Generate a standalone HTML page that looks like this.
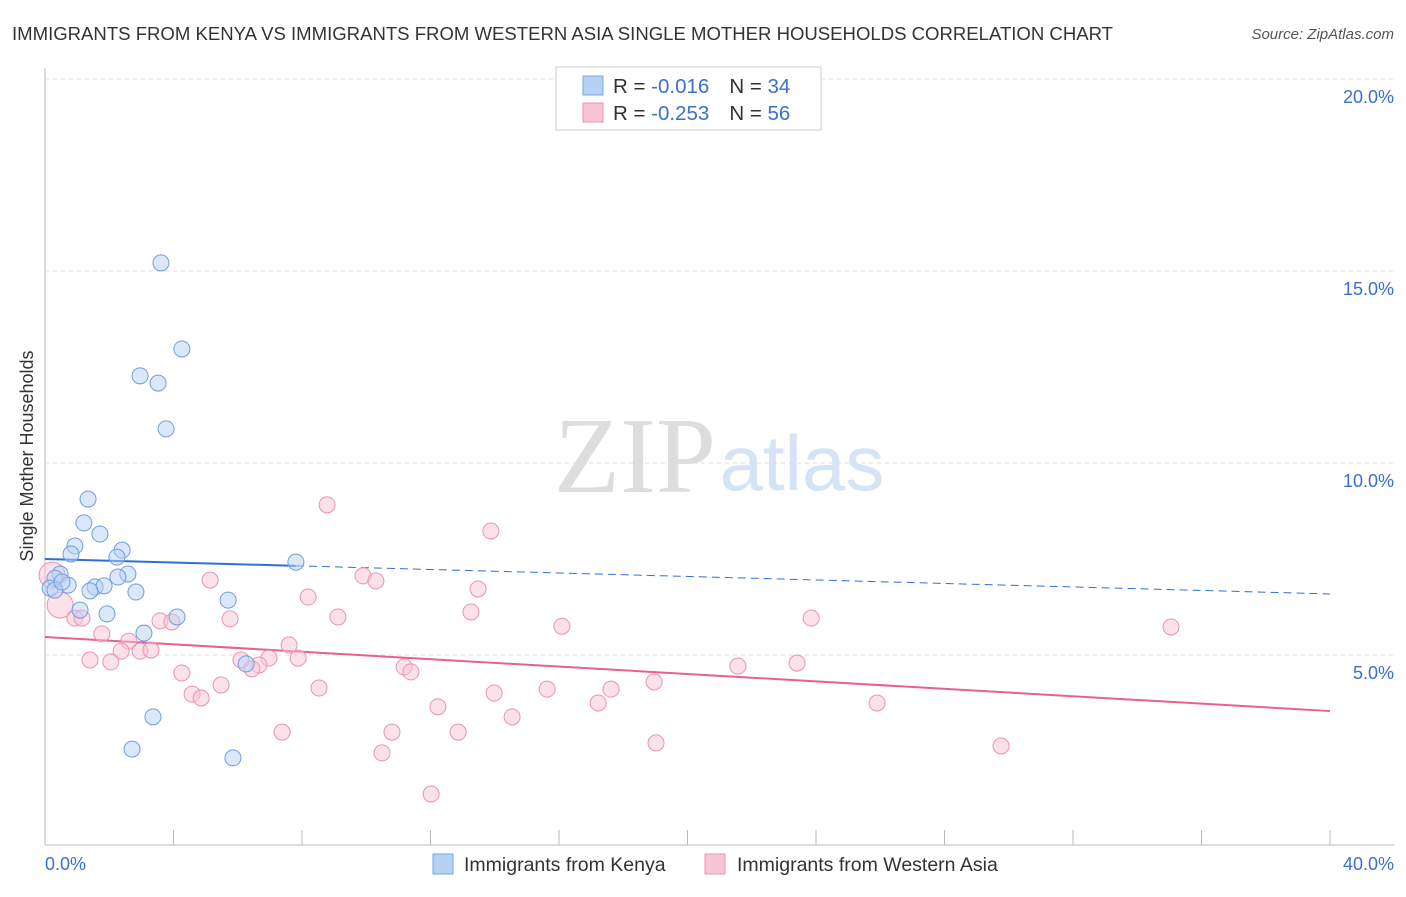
<!DOCTYPE html>
<html><head><meta charset="utf-8"><style>
body{margin:0;background:#fff;font-family:"Liberation Sans",sans-serif;}
</style></head><body>
<svg width="1406" height="892" xmlns="http://www.w3.org/2000/svg" id="chart" font-family="Liberation Sans, sans-serif">
<text x="12" y="40" font-size="18" fill="#333" textLength="1101" lengthAdjust="spacingAndGlyphs">IMMIGRANTS FROM KENYA VS IMMIGRANTS FROM WESTERN ASIA SINGLE MOTHER HOUSEHOLDS CORRELATION CHART</text>
<text x="1394" y="39" font-size="15" fill="#555" font-style="italic" text-anchor="end">Source: ZipAtlas.com</text>
<text x="33" y="456" font-size="18" fill="#333" text-anchor="middle" transform="rotate(-90 33 456)">Single Mother Households</text>
<text x="635" y="492" font-size="108" fill="#ddd" font-family="Liberation Serif, serif" text-anchor="middle">ZIP</text>
<text x="802" y="490" font-size="78" fill="#d4e3f5" text-anchor="middle">atlas</text>
<g id="grid"></g><g id="axes"></g><g id="trends"></g><g id="pts"></g>
<g>
<rect x="556" y="67" width="265" height="63" fill="#fff" stroke="#ccc"/>
<rect x="583" y="76" width="20" height="19" fill="#b7d1f5" stroke="#7ba6e0"/>
<text x="613" y="93" font-size="20.5" fill="#333">R = <tspan fill="#3a6fd0">-0.016</tspan><tspan dx="20">N = </tspan><tspan fill="#3a6fd0">34</tspan></text>
<rect x="583" y="103" width="20" height="19" fill="#f8c5d5" stroke="#e894b0"/>
<text x="613" y="120" font-size="20.5" fill="#333">R = <tspan fill="#3a6fd0">-0.253</tspan><tspan dx="20">N = </tspan><tspan fill="#3a6fd0">56</tspan></text>
</g>
<g>
<rect x="433" y="854" width="20" height="20" fill="#b7d1f5" stroke="#7ba6e0"/>
<text x="464" y="871" font-size="19.5" fill="#333">Immigrants from Kenya</text>
<rect x="705" y="854" width="20" height="20" fill="#f8c5d5" stroke="#e894b0"/>
<text x="737" y="871" font-size="19.5" fill="#333">Immigrants from Western Asia</text>
</g>
<text x="45" y="870" font-size="18" fill="#3a6fd0">0.0%</text>
<text x="1394" y="870" font-size="18" fill="#3a6fd0" text-anchor="end">40.0%</text>
</svg>
<script>
const yTicks=[5,10,15,20];
const xTicks=[0,4,8,12,16,20,24,28,32,36,40];
const kenyaX=[3.61,4.26,2.96,3.52,3.77,1.34,1.21,1.71,0.93,0.81,2.40,2.24,7.81,0.47,0.31,2.58,2.27,0.72,1.56,1.84,1.40,0.16,2.83,1.09,1.93,5.70,4.11,3.08,3.36,2.71,5.85,6.26,0.31,0.53];
const kenyaY=[15.21,12.97,12.27,12.08,10.89,9.06,8.44,8.15,7.84,7.63,7.73,7.55,7.42,7.11,7.00,7.11,7.03,6.82,6.77,6.80,6.67,6.74,6.64,6.17,6.07,6.43,5.99,5.57,3.39,2.55,2.32,4.77,6.69,6.90];
const wasiaX=[0.22,0.47,8.78,13.88,5.14,8.19,9.90,10.30,13.48,13.26,9.12,5.76,3.58,3.95,0.93,1.15,1.77,2.61,2.37,2.96,3.30,1.40,2.05,6.10,6.97,7.88,6.66,6.44,7.60,16.09,23.85,35.05,4.26,11.18,11.39,21.57,23.41,18.96,8.53,5.48,4.58,4.86,15.63,17.62,13.98,17.22,25.90,12.23,14.54,7.38,10.80,12.86,19.02,29.76,10.49,12.02];
const wasiaY=[7.08,6.30,8.91,8.23,6.95,6.51,7.06,6.93,6.72,6.12,5.99,5.94,5.89,5.86,5.96,5.96,5.55,5.36,5.10,5.10,5.13,4.87,4.82,4.87,4.92,4.92,4.74,4.64,5.26,5.75,5.96,5.73,4.53,4.69,4.56,4.71,4.79,4.30,4.14,4.22,3.98,3.88,4.11,4.11,4.01,3.75,3.75,3.65,3.39,2.99,2.99,2.99,2.71,2.63,2.45,1.38];
const kenyaTrend=[7.50,6.59];
const wasiaTrend=[5.47,3.54];
const NS="http://www.w3.org/2000/svg";
const X=v=>45+v/40*1285, Y=v=>847-v*38.4;
function mk(p,t,a){const e=document.createElementNS(NS,t);for(const k in a)e.setAttribute(k,a[k]);document.getElementById(p).appendChild(e);return e;}
yTicks.forEach(t=>{
 const l=mk('grid','line',{x1:45,x2:1394,y1:Y(t),y2:Y(t),stroke:'#ddd','stroke-dasharray':'4,4'});
 
 
 const tx=mk('grid','text',{x:1394,y:Y(t)+24,'font-size':18,fill:'#3a6fd0','text-anchor':'end'});
 tx.textContent=t.toFixed(1)+'%';
 
 
});
const ya=mk('axes','line',{x1:45,x2:45,y1:68,y2:845,stroke:'#bbb'});


const xa=mk('axes','line',{x1:45,x2:1394,y1:845,y2:845,stroke:'#bbb'});


xTicks.forEach(t=>{
 const l=mk('axes','line',{x1:X(t),x2:X(t),y1:830,y2:845,stroke:'#bbb'});
 
 
});
function trend(tr,col,solidEnd,name){
 const f=x=>tr[0]+(tr[1]-tr[0])*x/40;
 const a=mk('trends','line',{x1:X(0),y1:Y(f(0)),x2:X(solidEnd),y2:Y(f(solidEnd)),stroke:col,'stroke-width':2});
 
 
 if(solidEnd<40){const b=mk('trends','line',{x1:X(solidEnd),y1:Y(f(solidEnd)),x2:X(40),y2:Y(f(40)),stroke:col,'stroke-width':1,'stroke-dasharray':'8,5'});
 
 }
}
function pts(xs,ys,fill,stroke,name){
 xs.forEach((x,i)=>{
  const r=(name==='wasia-point'&&i<2)?13:8;
  const c=mk('pts','circle',{cx:X(x),cy:Y(ys[i]),r:r,fill:fill,stroke:stroke,'stroke-width':1,'fill-opacity':0.5});
  
  
 });
}
pts(wasiaX,wasiaY,'#f8c5d5','#e894b0','wasia-point');
pts(kenyaX,kenyaY,'#b7d1f5','#6f9ee0','kenya-point');
trend(kenyaTrend,'#2f6fd6',7.81,'kenya-trendline');
trend(wasiaTrend,'#e8608e',40,'wasia-trendline');
</script>
</body></html>
